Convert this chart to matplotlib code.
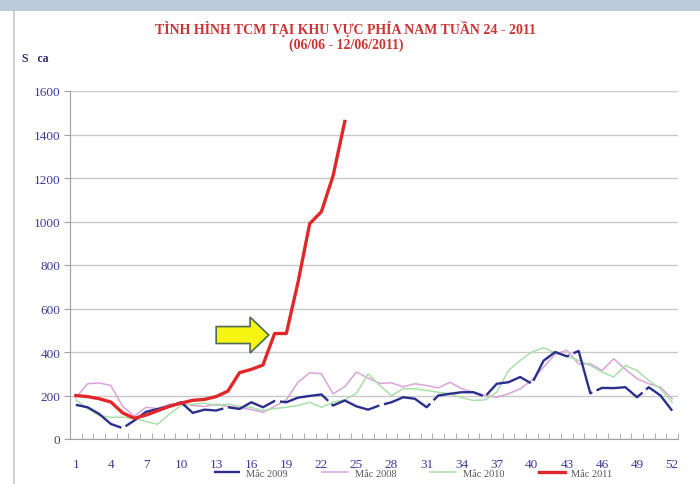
import matplotlib.pyplot as plt
from matplotlib.patches import FancyArrow, Rectangle
from matplotlib.lines import Line2D

weeks = list(range(1, 53))

mac_2009 = [157, 146, 115, 69, 50, 85, 125, 138, 150, 169, 120, 135, 131, 146, 138, 169,
            146, 175, 169, 190, 198, 205, 154, 177, 150, 135, 155, 169, 192, 185, 146, 200,
            208, 215, 215, 195, 254, 261, 285, 254, 360, 400, 380, 405, 210, 235, 234, 238,
            192, 238, 200, 130]

mac_2008 = [190, 254, 258, 246, 150, 105, 146, 140, 160, 165, 154, 150, 160, 150, 145, 135,
            123, 150, 180, 261, 305, 300, 208, 240, 308, 280, 256, 258, 240, 254, 246, 235,
            261, 231, 215, 200, 192, 208, 231, 270, 330, 390, 408, 345, 346, 315, 369, 320,
            277, 254, 238, 185]

mac_2010 = [180, 140, 108, 100, 100, 95, 80, 68, 115, 154, 160, 165, 155, 160, 150, 145,
            131, 140, 146, 154, 169, 146, 169, 180, 210, 300, 246, 200, 231, 231, 223, 215,
            208, 190, 177, 180, 215, 315, 361, 400, 420, 395, 380, 361, 338, 308, 285, 338,
            315, 269, 231, 169]

weeks_2011 = list(range(1, 25))
mac_2011 = [200, 195, 185, 170, 120, 95, 110, 130, 150, 165, 178, 182, 195, 220, 305, 320,
            340, 485, 485, 720, 990, 1045, 1210, 1460]

labels = ["Mắc 2009", "Mắc 2008", "Mắc 2010", "Mắc 2011"]
xtick_weeks = list(range(1, 53, 3))
ytick_vals = list(range(0, 1601, 200))

c_navy = "#2b2f8c"
c_pink = "#d9a3d9"
c_green = "#a8e0a8"
c_red = "#e0282a"
c_text = "#3a3a9a"

plt.rcParams["font.family"] = ["Liberation Serif", "DejaVu Serif"]

fig = plt.figure(figsize=(7, 4.85), dpi=100)
fig.patches.append(Rectangle((0, 1 - 12 / 485), 1, 12 / 485, transform=fig.transFigure,
                             facecolor="#bccbdc", edgecolor="none"))
fig.lines.append(Line2D([14 / 700, 14 / 700], [0, 1 - 12 / 485], transform=fig.transFigure,
                        color="#c8c8c8", lw=1.2))

ax = fig.add_axes([70 / 700, 1 - 440 / 485, 608 / 700, 348 / 485])

ax.plot(weeks, mac_2008, color=c_pink, lw=1.1, label=labels[1])
ax.plot(weeks, mac_2010, color=c_green, lw=1.1, label=labels[2])
ax.plot(weeks, mac_2009, color=c_navy, lw=1.7, linestyle=(0, (22, 2)), label=labels[0])
ax.plot(weeks_2011, mac_2011, color=c_red, lw=2.4, solid_joinstyle="round", label=labels[3])

ax.add_patch(FancyArrow(13.0, 478, 4.5, 0, width=78, head_width=165, head_length=1.6,
                        length_includes_head=True, facecolor="#f5f510",
                        edgecolor="#4d6b55", lw=1.2, zorder=5))

ax.set_xlim(0.5, 52.5)
ax.set_ylim(0, 1600)
ax.set_xticks(xtick_weeks)
ax.set_xticks([w + 0.5 for w in range(0, 53)], minor=True)
ax.set_yticks(ytick_vals)
ax.tick_params(axis="x", which="major", length=0, labelsize=9.5, labelcolor=c_text, pad=14)
ax.tick_params(axis="x", which="minor", length=4, color="#a0a0a0", direction="in")
ax.tick_params(axis="y", length=4, color="#a0a0a0", labelsize=9.5, labelcolor=c_text, pad=3)
ax.grid(axis="y", color="#c8c8c8", lw=1)
ax.set_axisbelow(True)
for s in ["top", "right"]:
    ax.spines[s].set_visible(False)
for s in ["left", "bottom"]:
    ax.spines[s].set_color("#a0a0a0")

handles, hl = ax.get_legend_handles_labels()
order = [hl.index(l) for l in labels]
fig.legend([handles[i] for i in order], labels, loc="center", bbox_to_anchor=(0.59, 0.022),
           ncol=4, frameon=False, fontsize=7.5, handlelength=2.5, handletextpad=0.6,
           columnspacing=3.3, labelcolor="#555555", borderpad=0)

fig.text(0.494, 1 - 29 / 485, "TÌNH HÌNH TCM TẠI KHU VỰC PHÍA NAM TUẦN 24 - 2011",
         ha="center", va="center", color="#cc3333", fontsize=10, fontweight="bold")
fig.text(0.494, 1 - 45 / 485, "(06/06 - 12/06/2011)", ha="center", va="center",
         color="#cc3333", fontsize=10, fontweight="bold")
fig.text(22 / 700, 1 - 59 / 485, "S   ca", ha="left", va="center", color="#2b2f6c",
         fontsize=8.5, fontweight="bold")

fig.savefig("out.png", dpi=100)
